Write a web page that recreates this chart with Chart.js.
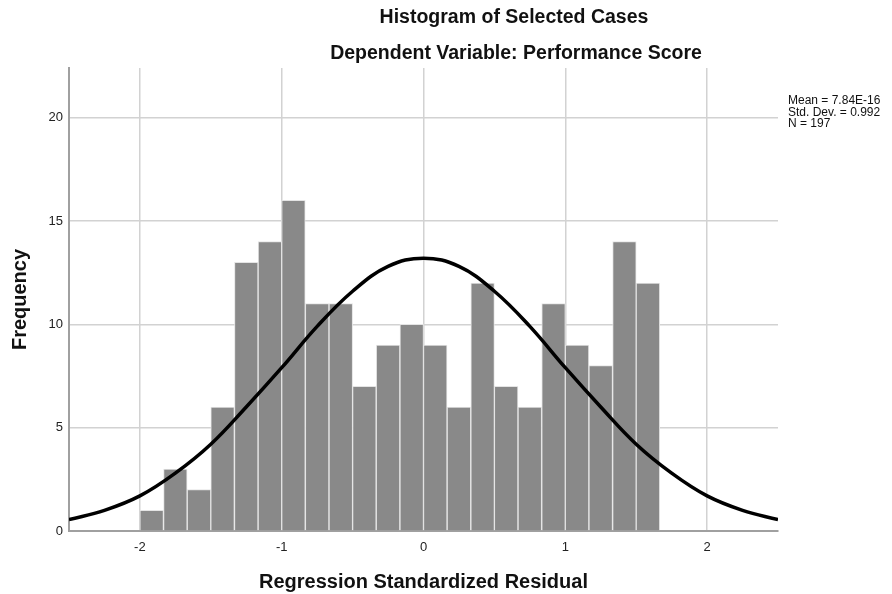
<!DOCTYPE html>
<html>
<head>
<meta charset="utf-8">
<script src="https://cdn.jsdelivr.net/npm/chart.js@4.4.1/dist/chart.umd.min.js"></script>
<style>
  html, body { margin: 0; padding: 0; background: #fff; }
  #wrap { width: 892px; height: 594px; }
</style>
</head>
<body>
<div id="wrap"><canvas id="histChart" width="892" height="594"></canvas></div>
<script>
// Histogram bins (centres of bins of width 1/6) and counts
var binCenters = [-1.917, -1.75, -1.583, -1.417, -1.25, -1.083, -0.917, -0.75, -0.583, -0.417, -0.25,
                  -0.083, 0.083, 0.25, 0.417, 0.583, 0.75, 0.917, 1.083, 1.25, 1.417, 1.583];
var counts = [1, 3, 2, 6, 13, 14, 16, 11, 11, 7, 9, 10, 9, 6, 12, 7, 6, 11, 9, 8, 14, 12];

// Normal curve
var curveX = [-2.5, -2.25, -2, -1.75, -1.5, -1.25, -1, -0.75, -0.5, -0.25, 0,
              0.25, 0.5, 0.75, 1, 1.25, 1.5, 1.75, 2, 2.25, 2.5];
var curveY = [0.55, 1.0, 1.7, 2.8, 4.2, 6.0, 7.9, 9.9, 11.6, 12.8, 13.2,
              12.8, 11.6, 9.9, 7.9, 6.0, 4.2, 2.8, 1.7, 1.0, 0.55];

var xTicks = [-2, -1, 0, 1, 2];
var yTicks = [0, 5, 10, 15, 20];

var titleLines = ["Histogram of Selected Cases", "Dependent Variable: Performance Score"];
var statLines = ["Mean = 7.84E-16", "Std. Dev. = 0.992", "N = 197"];

var FONT = "'Liberation Sans', Arial, sans-serif";

var barData = binCenters.map(function (x, i) { return { x: x, y: counts[i] }; });
var lineData = curveX.map(function (x, i) { return { x: x, y: curveY[i] }; });

var textPlugin = {
  id: 'texts',
  afterDraw: function (chart) {
    var ctx = chart.ctx;
    ctx.save();
    ctx.fillStyle = '#111';
    ctx.textAlign = 'center';
    ctx.textBaseline = 'middle';
    ctx.font = 'bold 19.5px ' + FONT;
    ctx.fillText(titleLines[0], 514, 18);
    ctx.fillText(titleLines[1], 516, 54);

    ctx.textAlign = 'left';
    ctx.font = '12px ' + FONT;
    ctx.fillStyle = '#111';
    statLines.forEach(function (t, i) {
      ctx.fillText(t, 788, 101 + i * 11.5);
    });
    ctx.restore();
  }
};

new Chart(document.getElementById('histChart'), {
  type: 'bar',
  data: {
    datasets: [
      {
        type: 'line',
        data: lineData,
        borderColor: '#000',
        borderWidth: 3.5,
        pointRadius: 0,
        tension: 0.4,
        fill: false,
        order: 0
      },
      {
        type: 'bar',
        data: barData,
        backgroundColor: '#898989',
        borderColor: '#e4e4e4',
        borderWidth: { left: 1, right: 1, top: 1, bottom: 0 },
        borderSkipped: 'bottom',
        barPercentage: 1,
        categoryPercentage: 1,
        order: 1
      }
    ]
  },
  options: {
    responsive: false,
    animation: false,
    layout: { padding: { left: 0, right: 114, top: 68, bottom: 0 } },
    plugins: {
      legend: { display: false },
      tooltip: { enabled: false }
    },
    scales: {
      x: {
        type: 'linear',
        min: -2.5,
        max: 2.5,
        offset: false,
        afterBuildTicks: function (s) { s.ticks = xTicks.map(function (v) { return { value: v }; }); },
        afterFit: function (s) { s.height = 63; },
        grid: { color: '#d2d2d2', lineWidth: 1.5, drawTicks: false, offset: false },
        border: { color: '#a0a0a0', width: 2 },
        ticks: {
          padding: 9,
          color: '#222',
          font: { family: FONT, size: 13 }
        },
        title: {
          display: true,
          text: 'Regression Standardized Residual',
          color: '#111',
          font: { family: FONT, size: 20, weight: 'bold' },
          padding: { top: 0, bottom: 0 }
        }
      },
      y: {
        min: 0,
        max: 22.4,
        afterBuildTicks: function (s) { s.ticks = yTicks.map(function (v) { return { value: v }; }); },
        afterFit: function (s) { s.width = 69; },
        grid: { color: '#d2d2d2', lineWidth: 1.5, drawTicks: false },
        border: { color: '#a0a0a0', width: 2 },
        ticks: {
          padding: 6,
          color: '#222',
          font: { family: FONT, size: 13 }
        },
        title: {
          display: true,
          text: 'Frequency',
          color: '#111',
          font: { family: FONT, size: 20, weight: 'bold' },
          padding: { top: 8, bottom: 0 }
        }
      }
    }
  },
  plugins: [textPlugin]
});
</script>
</body>
</html>
